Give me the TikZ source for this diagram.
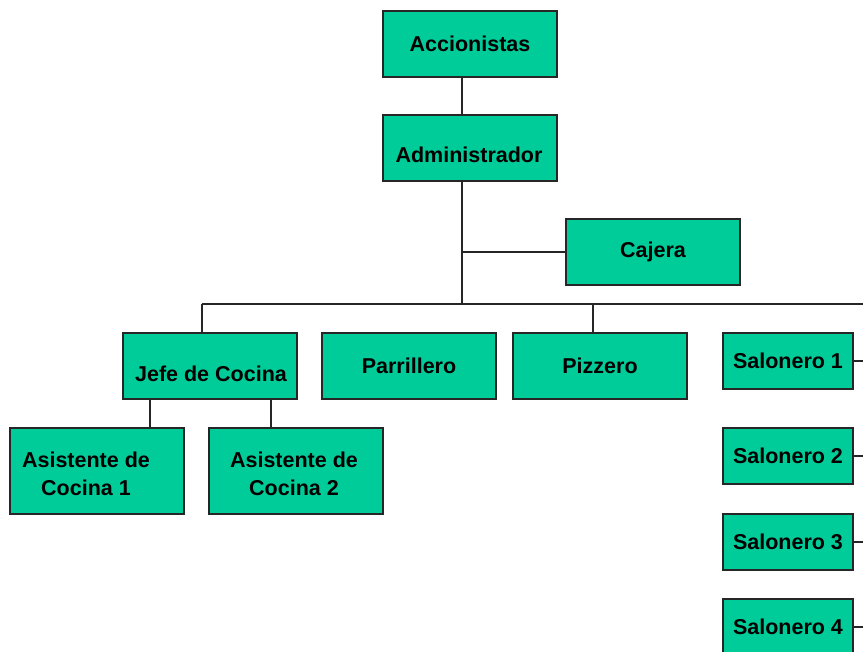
\documentclass[tikz,border=0pt]{standalone}
\usepackage{fontspec}
\setmainfont{Liberation Sans}
\definecolor{boxgreen}{RGB}{0,204,153}
\begin{document}
\begin{tikzpicture}[x=1pt,y=-1pt,
  lbl/.style={font=\bfseries\fontsize{21.5}{28}\selectfont, align=center, inner sep=0pt},
  box/.style={draw=black!85, line width=1.1pt, fill=boxgreen,
    minimum width=174pt, minimum height=66pt, inner sep=0pt, lbl},
  sbox/.style={box, minimum width=130pt, minimum height=56pt},
  abox/.style={box, minimum height=86pt},
  link/.style={line width=1.1pt, draw=black!85}]
\useasboundingbox (0,0) rectangle (863,652);

% boxes
\node[box]  (acc)  at (470,44)    {Accionistas};
\node[box]  (adm)  at (470,148)   {};
\node[lbl]  (admt) at (469,155)   {Administrador};
\node[box]  (caj)  at (653,252)   {Cajera};
\node[box]  (jefe) at (210,366)   {};
\node[lbl]  (jeft) at (211,374)   {Jefe de Cocina};
\node[box]  (parr) at (409,366)   {Parrillero};
\node[box]  (pizz) at (600,366)   {Pizzero};
\node[sbox] (sal1) at (788,361)   {Salonero 1};
\node[sbox] (sal2) at (788,456)   {Salonero 2};
\node[sbox] (sal3) at (788,542)   {Salonero 3};
\node[sbox] (sal4) at (788,627)   {Salonero 4};
\node[abox] (as1)  at (97,471)    {};
\node[lbl]  (as1t) at (86,474)    {Asistente de\\Cocina 1};
\node[abox] (as2)  at (296,471)   {};
\node[lbl]  (as2t) at (294,474)   {Asistente de\\Cocina 2};

% junction points
\coordinate (trunk) at (462,304);
\coordinate (busL)  at (202,304);
\coordinate (busR)  at (863,304);
\coordinate (pzj)   at (593,304);
\coordinate (a1)    at (150,399);
\coordinate (a2)    at (271,399);

% connectors
\draw[link] (trunk |- acc.south) -- (trunk |- adm.north);
\draw[link] (trunk |- adm.south) -- (trunk);
\draw[link] (trunk |- caj.west) -- (caj.west);
\draw[link] (busL) -- (busR);
\draw[link] (busL) -- (busL |- jefe.north);
\draw[link] (pzj) -- (pzj |- pizz.north);
\draw[link] (a1) -- (a1 |- as1.north);
\draw[link] (a2) -- (a2 |- as2.north);
\foreach \s in {sal1,sal2,sal3,sal4}
  \draw[link] (\s.east) -- (\s.east -| busR);
\end{tikzpicture}
\end{document}
